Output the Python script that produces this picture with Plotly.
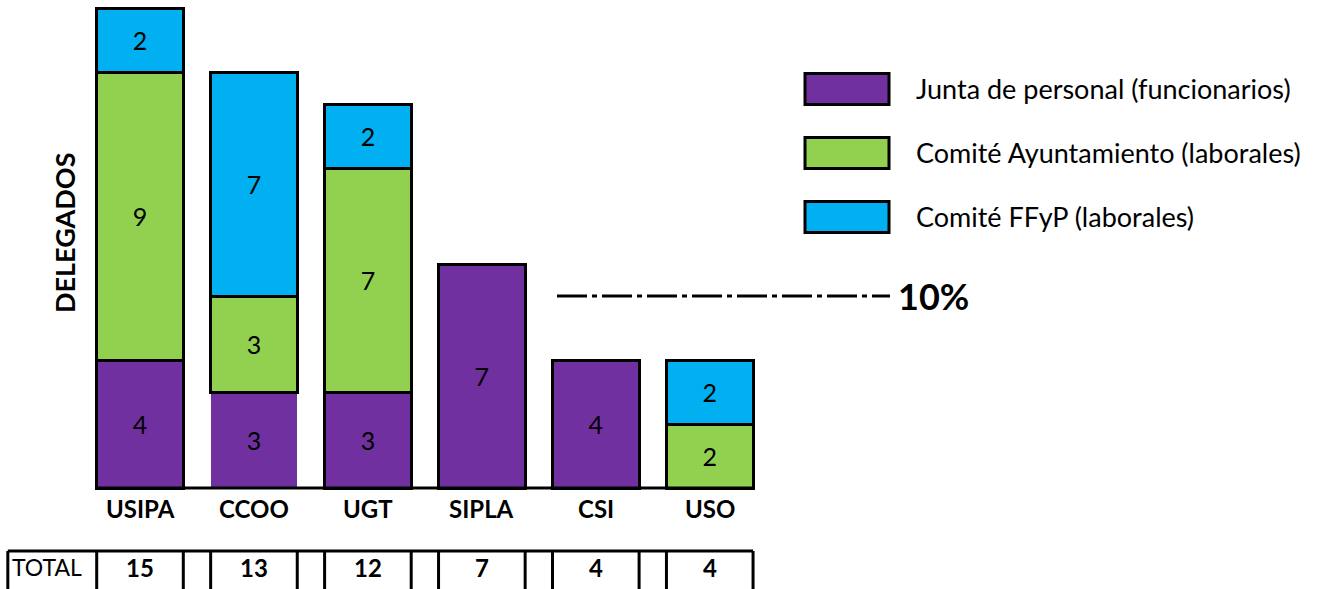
import plotly.graph_objects as go

# ---------------- data ----------------
categories = ["USIPA", "CCOO", "UGT", "SIPLA", "CSI", "USO"]
series_names = [
    "Junta de personal (funcionarios)",
    "Comité Ayuntamiento (laborales)",
    "Comité FFyP (laborales)",
]
junta = [4, 3, 3, 7, 4, 0]
comite_ayto = [9, 3, 7, 0, 0, 2]
comite_ffyp = [2, 7, 2, 0, 0, 2]
threshold_value = 6
threshold_label = "10%"
axis_title = "DELEGADOS"
total_label = "TOTAL"

# ---------------- style ----------------
W, H = 1328, 589
FONT = "Lato, 'Open Sans', sans-serif"
colors = ["#7030A0", "#92D050", "#00B0F0"]
LW = 3
BAR_W = 0.76
# outline widths per bar (CCOO's bottom segment has no outline in the original)
outline_widths = [
    [LW, 0, LW, LW, LW, LW],
    [LW] * 6,
    [LW] * 6,
]

def px(x):
    return x / W

def py(y):
    return 1 - y / H

series = [junta, comite_ayto, comite_ffyp]
totals = [sum(v) for v in zip(*series)]

fig = go.Figure()
for name, vals, col, lw in zip(series_names, series, colors, outline_widths):
    fig.add_trace(go.Bar(
        x=categories,
        y=[v if v else None for v in vals],
        name=name,
        marker=dict(color=col, line=dict(color="black", width=lw)),
        text=[str(v) if v else "" for v in vals],
        textposition="inside",
        insidetextanchor="middle",
        textangle=0,
        textfont=dict(family=FONT, size=25, color="black"),
        hoverinfo="skip",
    ))

n = len(categories)
shapes = []
annotations = []

# baseline
shapes.append(dict(type="line", xref="x", yref="y",
                   x0=-BAR_W / 2, x1=n - 1 + BAR_W / 2, y0=0, y1=0,
                   line=dict(color="black", width=LW), layer="above"))

# threshold line
shapes.append(dict(type="line", xref="paper", yref="y",
                   x0=px(557), x1=px(890), y0=threshold_value, y1=threshold_value,
                   line=dict(color="black", width=LW, dash="30px,5px,5px,5px")))
annotations.append(dict(xref="paper", yref="y", x=px(896), y=threshold_value,
                        xanchor="left", yanchor="middle", showarrow=False,
                        text="<b>%s</b>" % threshold_label,
                        font=dict(family=FONT, size=36, color="black")))

# category labels
for i, c in enumerate(categories):
    annotations.append(dict(xref="x", yref="paper", x=i, y=py(508),
                            xanchor="center", yanchor="middle", showarrow=False,
                            text="<b>%s</b>" % c,
                            font=dict(family=FONT, size=24, color="black")))

# totals table
table_left = -1.16
shapes.append(dict(type="line", xref="x", yref="paper",
                   x0=table_left, x1=n - 1 + BAR_W / 2, y0=py(551), y1=py(551),
                   line=dict(color="black", width=LW)))
vlines = [table_left]
for i in range(n):
    vlines += [i - BAR_W / 2, i + BAR_W / 2]
for xv in vlines:
    shapes.append(dict(type="line", xref="x", yref="paper",
                       x0=xv, x1=xv, y0=py(551), y1=py(600),
                       line=dict(color="black", width=LW)))
annotations.append(dict(xref="paper", yref="paper", x=px(10), y=py(567),
                        xanchor="left", yanchor="middle", showarrow=False,
                        text=total_label,
                        font=dict(family=FONT, size=23, color="black")))
for i, t in enumerate(totals):
    annotations.append(dict(xref="x", yref="paper", x=i, y=py(567),
                            xanchor="center", yanchor="middle", showarrow=False,
                            text="<b>%d</b>" % t,
                            font=dict(family=FONT, size=24, color="black")))

# y axis title
annotations.append(dict(xref="paper", yref="paper", x=px(64), y=py(233),
                        xanchor="center", yanchor="middle", showarrow=False,
                        textangle=-90, text="<b>%s</b>" % axis_title,
                        font=dict(family=FONT, size=27, color="black")))

# custom legend
for k, (name, col) in enumerate(zip(series_names, colors)):
    top = 73.5 + 64 * k
    shapes.append(dict(type="rect", xref="paper", yref="paper",
                       x0=px(805), x1=px(889), y0=py(top), y1=py(top + 31),
                       fillcolor=col, line=dict(color="black", width=LW)))
    annotations.append(dict(xref="paper", yref="paper", x=px(914), y=py(top + 15),
                            xanchor="left", yanchor="middle", showarrow=False,
                            text=name,
                            font=dict(family=FONT, size=27, color="black")))

x_unit = 113.95
y_unit = 32.0
fig.update_layout(
    width=W, height=H, autosize=False,
    margin=dict(l=0, r=0, t=0, b=0, pad=0),
    barmode="stack", bargap=1 - BAR_W,
    showlegend=False,
    paper_bgcolor="white", plot_bgcolor="white",
    xaxis=dict(visible=False, type="category",
               range=[-140 / x_unit, (W - 140) / x_unit], fixedrange=True),
    yaxis=dict(visible=False, range=[-(H - 488) / y_unit, 488 / y_unit], fixedrange=True),
    shapes=shapes,
    annotations=annotations,
    uniformtext=dict(minsize=10),
)

fig.write_html("out.html", config={"displayModeBar": False},
               post_script="document.body.style.margin='0';document.body.style.overflow='hidden';")
